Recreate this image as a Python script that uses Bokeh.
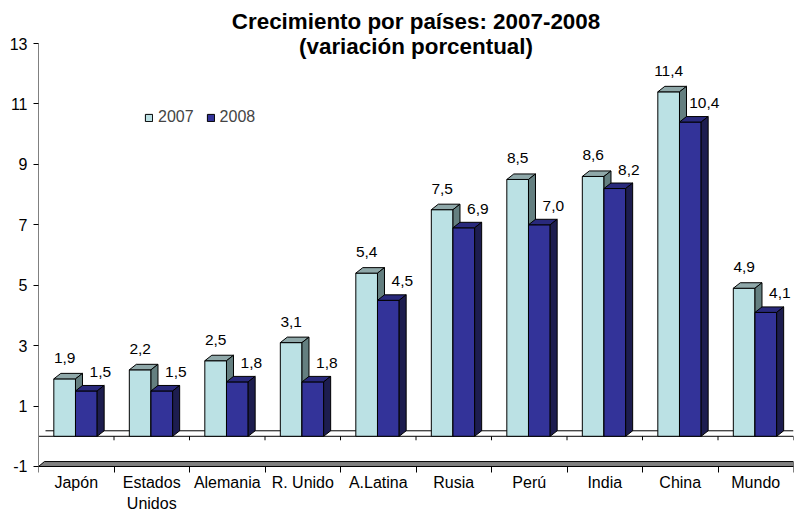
from bokeh.plotting import figure
from bokeh.models import Range1d, FixedTicker, Legend, LegendItem, Label
from bokeh.core.properties import value
from bokeh.embed import file_html
from bokeh.resources import INLINE

# ---- data ----
categories = ["Japón", "Estados\nUnidos", "Alemania", "R. Unido", "A.Latina",
              "Rusia", "Perú", "India", "China", "Mundo"]
y2007 = [1.9, 2.2, 2.5, 3.1, 5.4, 7.5, 8.5, 8.6, 11.4, 4.9]
y2008 = [1.5, 1.5, 1.8, 1.8, 4.5, 6.9, 7.0, 8.2, 10.4, 4.1]
series = ["2007", "2008"]
y_ticks = [-1, 1, 3, 5, 7, 9, 11, 13]
title1 = "Crecimiento por países: 2007-2008"
title2 = "(variación porcentual)"

# ---- style ----
FONT = "Liberation Sans"
C07 = ("#BBE1E4", "#8FA8A9", "#647F80")   # front, top, side
C08 = ("#333399", "#29297C", "#1D1D4F")
EDGE = "#000000"
n = len(categories)

W, H = 794, 511
S = 30.214            # px per y unit
CW = 755 / n          # px per category
p = figure(width=W, height=H, x_range=Range1d(0, n),
           y_range=Range1d(-1 - 45 / S, 13 + 43 / S),
           output_backend="svg", toolbar_location=None,
           min_border_left=38, min_border_right=1, min_border_top=0, min_border_bottom=0)
p.outline_line_color = None
p.grid.visible = False

# 3D geometry (in data units)
DX = 7 / CW
DY = 5.5 / S
L0, MID, R0 = 0.203, 0.49, 0.777

# floor at -1 (gray slab) and floor at 0
p.patch([0, DX * 0.85, n, n], [-1, -1 + DY * 0.9, -1 + DY * 0.9, -1],
        fill_color="#808080", line_color=EDGE, line_width=1)
p.segment(x0=[DX], y0=[DY], x1=[n], y1=[DY], line_color=EDGE, line_width=1)
p.segment(x0=[0], y0=[0], x1=[n], y1=[0], line_color=EDGE, line_width=1)
p.segment(x0=list(range(n + 1)), y0=[0] * (n + 1), x1=list(range(n + 1)),
          y1=[-4 / S] * (n + 1), line_color=EDGE, line_width=1)


def bars(vals, lo, hi, cols):
    lefts = [i + lo for i in range(n)]
    rights = [i + hi for i in range(n)]
    front = p.quad(left=lefts, right=rights, bottom=[0] * n, top=vals,
                   fill_color=cols[0], line_color=EDGE, line_width=1)
    p.patches(xs=[[l, r, r + DX, l + DX] for l, r in zip(lefts, rights)],
              ys=[[t, t, t + DY, t + DY] for t in vals],
              fill_color=cols[1], line_color=EDGE, line_width=1)
    p.patches(xs=[[r, r + DX, r + DX, r] for r in rights],
              ys=[[0, DY, t + DY, t] for t in vals],
              fill_color=cols[2], line_color=EDGE, line_width=1)
    return front, lefts, rights


f07, l07, r07 = bars(y2007, L0, MID, C07)
f08, l08, r08 = bars(y2008, MID, R0, C08)


def fmt(v):
    return f"{v:.1f}".replace(".", ",")


p.text(x=[(a + b) / 2 for a, b in zip(l07, r07)], y=y2007, text=[fmt(v) for v in y2007],
       text_font=value(FONT), text_font_size="15.5px", text_align="center",
       text_baseline="middle", y_offset=-21, text_color="black")
p.text(x=[(a + b) / 2 for a, b in zip(l08, r08)], y=y2008, text=[fmt(v) for v in y2008],
       text_font=value(FONT), text_font_size="15.5px", text_align="center",
       text_baseline="middle", x_offset=14, y_offset=-19, text_color="black")

# y axis
ya = p.yaxis[0]
ya.ticker = FixedTicker(ticks=y_ticks, minor_ticks=[])
ya.bounds = (-1, 13)
ya.axis_line_color = "#808080"
ya.major_tick_out = 5
ya.major_tick_in = 0
ya.minor_tick_out = 0
ya.minor_tick_in = 0
ya.major_tick_line_color = "black"
ya.major_label_standoff = 6
ya.major_label_text_font = FONT
ya.major_label_text_font_size = "16px"
ya.major_label_text_color = "black"
ya.major_label_overrides = {t: str(t) for t in y_ticks}

# x axis, drawn at the floor level -1
xa = p.xaxis[0]
centers = [i + 0.5 for i in range(n)]
xa.fixed_location = -1
xa.ticker = FixedTicker(ticks=centers, minor_ticks=list(range(n + 1)))
xa.major_label_overrides = {c: lab for c, lab in zip(centers, categories)}
xa.axis_line_color = "black"
xa.major_tick_out = 0
xa.major_tick_in = 0
xa.minor_tick_out = 6
xa.minor_tick_in = 0
xa.minor_tick_line_color = "black"
xa.major_label_standoff = 2
xa.major_label_text_font = FONT
xa.major_label_text_font_size = "16px"
xa.major_label_text_color = "black"

# legend
legend = Legend(items=[LegendItem(label=series[0], renderers=[f07]),
                       LegendItem(label=series[1], renderers=[f08])],
                orientation="horizontal", location=(106, 385),
                glyph_width=9, glyph_height=9, label_height=16, label_standoff=5,
                spacing=12, padding=0, margin=0, border_line_color=None,
                background_fill_alpha=0, label_text_font=FONT,
                label_text_font_size="16px")
p.add_layout(legend)

# titles
for txt, yy in [(title1, 490), (title2, 465)]:
    p.add_layout(Label(x=n / 2, y=yy, x_units="data", y_units="screen", text=txt,
                       text_font=FONT, text_font_size="22.4px", text_font_style="bold",
                       text_align="center", text_baseline="middle", text_color="black"))

open("out.html", "w").write(file_html(p, INLINE))
